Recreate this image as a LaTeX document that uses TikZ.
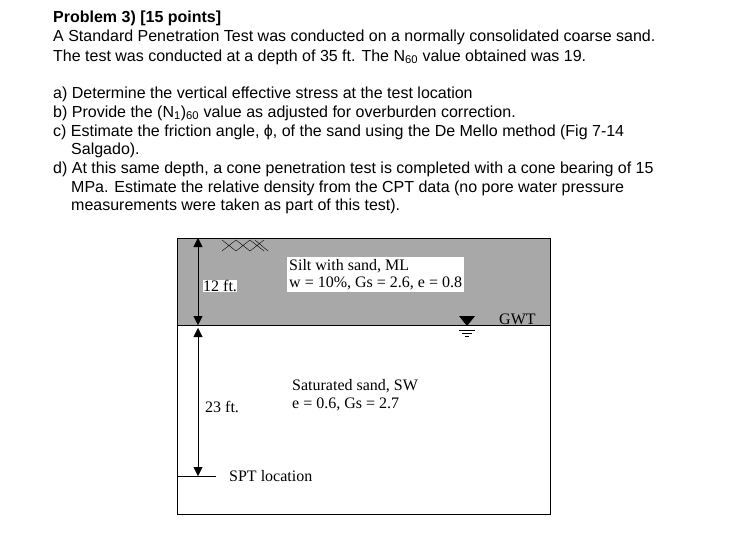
\documentclass[tikz,border=0pt]{standalone}
\usepackage{fontspec}
\setmainfont{Liberation Sans}
\newfontfamily\serifd{Liberation Serif}
\usetikzlibrary{arrows.meta}
\begin{document}
\begin{tikzpicture}[x=1pt,y=-1pt,
  txt/.style={anchor=base west,inner sep=0pt,font=\fontsize{16}{18}\selectfont},
  dtxt/.style={anchor=base west,inner sep=0pt,font=\serifd\fontsize{16}{17}\selectfont},
  tri/.style={-{Triangle[length=9pt,width=9pt]}},
  wb/.style={fill=white,inner sep=2pt}]
\useasboundingbox (0,0) rectangle (733,551);
\node[txt] (t1) at (53,23) {\textbf{Problem 3) [15 points]}};
\node[txt] (t2) at (53,42) {A Standard Penetration Test was conducted on a normally consolidated coarse sand.};
\node[txt] (t3) at (53,61) {The test was conducted at a depth of 35 ft. The N\textsubscript{60} value obtained was 19.};
\node[txt] (a) at (53,98) {a) Determine the vertical effective stress at the test location};
\node[txt] (b) at (53,117) {b) Provide the (N\textsubscript{1})\textsubscript{60} value as adjusted for overburden correction.};
\node[txt] (c) at (53,136) {c) Estimate the friction angle, ϕ, of the sand using the De Mello method (Fig 7-14};
\node[txt] (c2) at (71,154) {Salgado).};
\node[txt] (d) at (53,173) {d) At this same depth, a cone penetration test is completed with a cone bearing of 15};
\node[txt] (d2) at (71,192) {MPa. Estimate the relative density from the CPT data (no pore water pressure};
\node[txt] (d3) at (71,210) {measurements were taken as part of this test).};
% soil profile
\fill[gray!68] (177,238) rectangle (550,325);
\draw[line width=0.8pt] (177,238) rectangle (550,514);
\draw[line width=0.8pt] (177,325) -- (550,325);
% cross hatch
\draw (222,240) -- (236,251) (236,240) -- (222,251) (236,240) -- (250,251) (250,240) -- (236,251) (250,240) -- (264,251) (264,240) -- (250,251) (255,240) -- (268,251);
% dimension arrows
\coordinate (top) at (198,238);
\coordinate (gw) at (198,325);
\coordinate (spt) at (198,476);
\draw[tri] (198,290) -- (top);
\draw[tri] (198,290) -- (gw);
\draw[tri] (198,400) -- ([yshift=-3]gw);
\draw[tri] (198,400) -- (spt);
\draw (177,476) -- (216,476);
% labels
\node[wb,dtxt,anchor=west] (l12) at (203,286) {12 ft.};
\node[wb,anchor=north west,font=\serifd\fontsize{16}{17}\selectfont,align=left,inner sep=2pt] (silt) at (287,257) {Silt with sand, ML\\w = 10\%, Gs = 2.6, e = 0.8};
\node[dtxt] (l23) at (205,412) {23 ft.};
\node[dtxt] (sand) at (292,390) {Saturated sand, SW};
\node[dtxt] (sand2) at (292,408) {e = 0.6, Gs = 2.7};
\node[dtxt] (sptl) at (229,481) {SPT location};
% GWT
\fill (459,316) -- (475,316) -- (467,326) -- cycle;
\draw (459,330) -- (475,330) (462,333) -- (472,333) (465,336) -- (469,336);
\node[dtxt] (gwt) at (499,324) {GWT};
\end{tikzpicture}
\end{document}
